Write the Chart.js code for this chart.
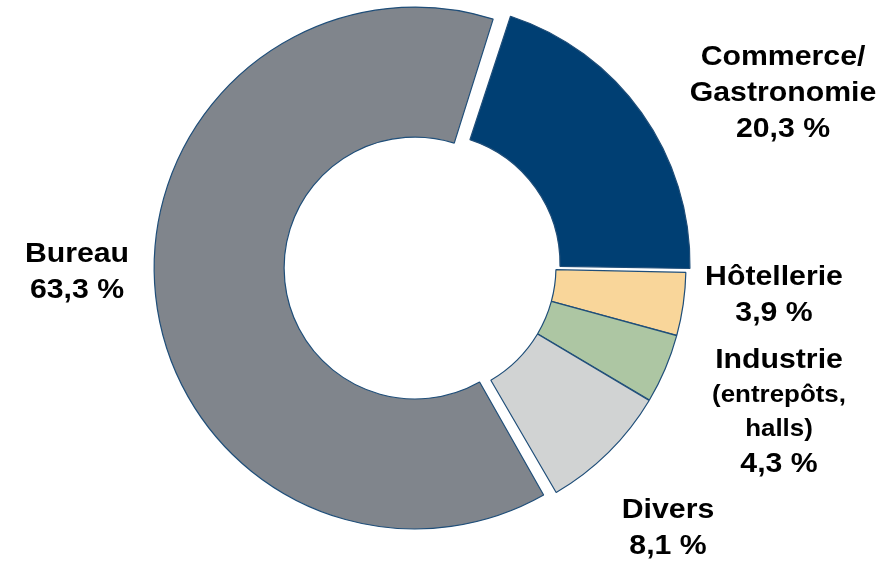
<!DOCTYPE html>
<html>
<head>
<meta charset="utf-8">
<script src="https://cdn.jsdelivr.net/npm/chart.js@4/dist/chart.umd.min.js"></script>
<style>
  html, body { margin: 0; padding: 0; background: #fff; }
  #wrap { position: relative; width: 887px; height: 561px; }
</style>
</head>
<body>
<div id="wrap"><canvas id="chShare"></canvas></div>
<script>
// Flächenanteile nach Nutzungsart
const categories = ['Commerce/Gastronomie', 'Hôtellerie', 'Industrie (entrepôts, halls)', 'Divers', 'Bureau'];
const shares = [20.3, 3.9, 4.3, 8.1, 63.3];
const labelLines = [
    ['Commerce/', 'Gastronomie'],
    ['Hôtellerie'],
    ['Industrie', '(entrepôts,', 'halls)'],
    ['Divers'],
    ['Bureau']
];

const sliceColors = ['#003f73', '#f9d69a', '#adc6a3', '#d1d3d3', '#80858c'];
// how far each slice is pulled out from the centre (px)
const explodePx = [5, 0, 0, 0, 10];

// label anchor relative to doughnut centre: [dx, first baseline dy]
const labelAnchor = [[358, -202], [349, 18], [354, 101], [243, 251], [-348, -5]];
const smallLines = { '(entrepôts,': 1, 'halls)': 1 };

function fmtPct(v) {
    return v.toFixed(1).replace('.', ',') + ' %';
}

// pull selected slices outward without changing their radius
const explodePlugin = {
    id: 'explode',
    beforeDatasetsDraw(chart) {
        chart.getDatasetMeta(0).data.forEach((arc, i) => {
            if (arc._wrapped || !explodePx[i]) return;
            const baseDraw = arc.draw;
            arc.draw = function (ctx) {
                const mid = (this.startAngle + this.endAngle) / 2;
                ctx.save();
                ctx.translate(Math.cos(mid) * explodePx[i], Math.sin(mid) * explodePx[i]);
                baseDraw.call(this, ctx);
                ctx.restore();
            };
            arc._wrapped = true;
        });
    }
};

const labelPlugin = {
    id: 'sliceLabels',
    afterDraw(chart) {
        const ctx = chart.ctx;
        const arc0 = chart.getDatasetMeta(0).data[0];
        const cx = arc0.x, cy = arc0.y;
        ctx.save();
        ctx.fillStyle = '#000';
        ctx.textAlign = 'center';
        ctx.textBaseline = 'alphabetic';
        shares.forEach((v, i) => {
            const lines = labelLines[i].concat([fmtPct(v)]);
            const x = cx + labelAnchor[i][0];
            let y = cy + labelAnchor[i][1];
            lines.forEach((t, k) => {
                if (k > 0) y += smallLines[t] ? 34 : 36;
                ctx.font = smallLines[t] ? 'bold 24px "Liberation Sans", Arial, sans-serif'
                                         : 'bold 28px "Liberation Sans", Arial, sans-serif';
                ctx.save();
                ctx.translate(x, y);
                ctx.scale(1.08, 1);
                ctx.fillText(t, 0, 0);
                ctx.restore();
            });
        });
        ctx.restore();
    }
};

new Chart(document.getElementById('chShare'), {
    type: 'doughnut',
    data: {
        labels: categories,
        datasets: [{
            data: shares,
            backgroundColor: sliceColors,
            borderColor: '#1f4e79',
            borderWidth: 1.2,
            spacing: 2
        }]
    },
    options: {
        responsive: true,
        maintainAspectRatio: false,
        animation: false,
        rotation: 18,
        cutout: '50%',
        layout: { padding: { left: 163.5, right: 200.5, top: 5.5, bottom: 32.5 } },
        plugins: {
            legend: { display: false },
            tooltip: { enabled: false }
        }
    },
    plugins: [explodePlugin, labelPlugin]
});
</script>
</body>
</html>
